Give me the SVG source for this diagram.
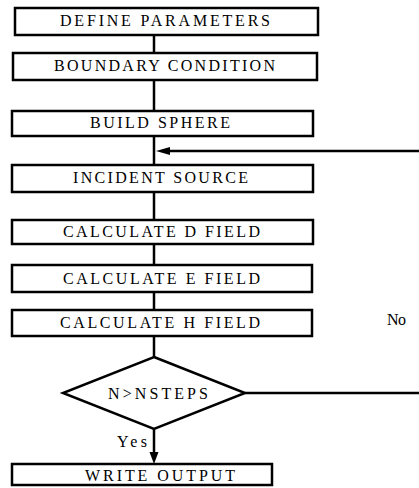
<svg xmlns="http://www.w3.org/2000/svg" width="419" height="488" viewBox="0 0 419 488">
<style>
.box{fill:#fff;stroke:#000;stroke-width:2.5}
.t{font-family:"Liberation Serif",serif;font-size:16px;fill:#000;text-anchor:start}
.c{stroke:#000;stroke-width:2.5;fill:none}
.ah{fill:#000;stroke:none}
</style>
<rect width="419" height="488" fill="#fff"/>
<g id="connectors">
<line class="c" x1="154" y1="35" x2="154" y2="53"/>
<line class="c" x1="154" y1="80" x2="154" y2="111"/>
<line class="c" x1="154" y1="136" x2="154" y2="165"/>
<line class="c" x1="154" y1="192" x2="154" y2="220"/>
<line class="c" x1="154" y1="244" x2="154" y2="265"/>
<line class="c" x1="154" y1="292" x2="154" y2="310"/>
<line class="c" x1="154" y1="336" x2="154" y2="357"/>
<line class="c" x1="154" y1="429" x2="154" y2="455"/>
<polygon class="ah" points="154,464 149.5,452 158.5,452"/>
<line class="c" x1="245" y1="393" x2="419" y2="393"/>
<line class="c" x1="166" y1="151" x2="419" y2="151" stroke-width="2"/>
<polygon class="ah" points="156,151 170,147 170,155"/>
<text class="t" x="387" y="325" textLength="19" lengthAdjust="spacing">No</text>
<text class="t" x="117" y="447" textLength="30" lengthAdjust="spacing">Yes</text>
</g>
<g id="define"><rect class="box" x="15" y="8" width="303" height="27"/><text class="t" x="60" y="26" textLength="210" lengthAdjust="spacing">DEFINE PARAMETERS</text></g>
<g id="boundary"><rect class="box" x="13" y="53" width="304" height="27"/><text class="t" x="54" y="71" textLength="221" lengthAdjust="spacing">BOUNDARY CONDITION</text></g>
<g id="build"><rect class="box" x="12" y="111" width="301" height="25"/><text class="t" x="90" y="128" textLength="140" lengthAdjust="spacing">BUILD SPHERE</text></g>
<g id="incident"><rect class="box" x="12" y="165" width="301" height="27"/><text class="t" x="73" y="183" textLength="175" lengthAdjust="spacing">INCIDENT SOURCE</text></g>
<g id="dfield"><rect class="box" x="12" y="220" width="301" height="24"/><text class="t" x="63" y="237" textLength="197" lengthAdjust="spacing">CALCULATE D FIELD</text></g>
<g id="efield"><rect class="box" x="12" y="265" width="300" height="27"/><text class="t" x="63" y="284" textLength="197" lengthAdjust="spacing">CALCULATE E FIELD</text></g>
<g id="hfield"><rect class="box" x="12" y="310" width="300" height="26"/><text class="t" x="60" y="328" textLength="200" lengthAdjust="spacing">CALCULATE H FIELD</text></g>
<g id="decision"><polygon class="box" points="154,357 245,393 154,429 63,393" stroke-width="3"/><text class="t" x="108" y="399" textLength="100" lengthAdjust="spacing">N&gt;NSTEPS</text></g>
<g id="write"><rect class="box" x="12" y="464" width="260" height="21"/><text class="t" x="85" y="481" textLength="150" lengthAdjust="spacing">WRITE OUTPUT</text></g>
</svg>
